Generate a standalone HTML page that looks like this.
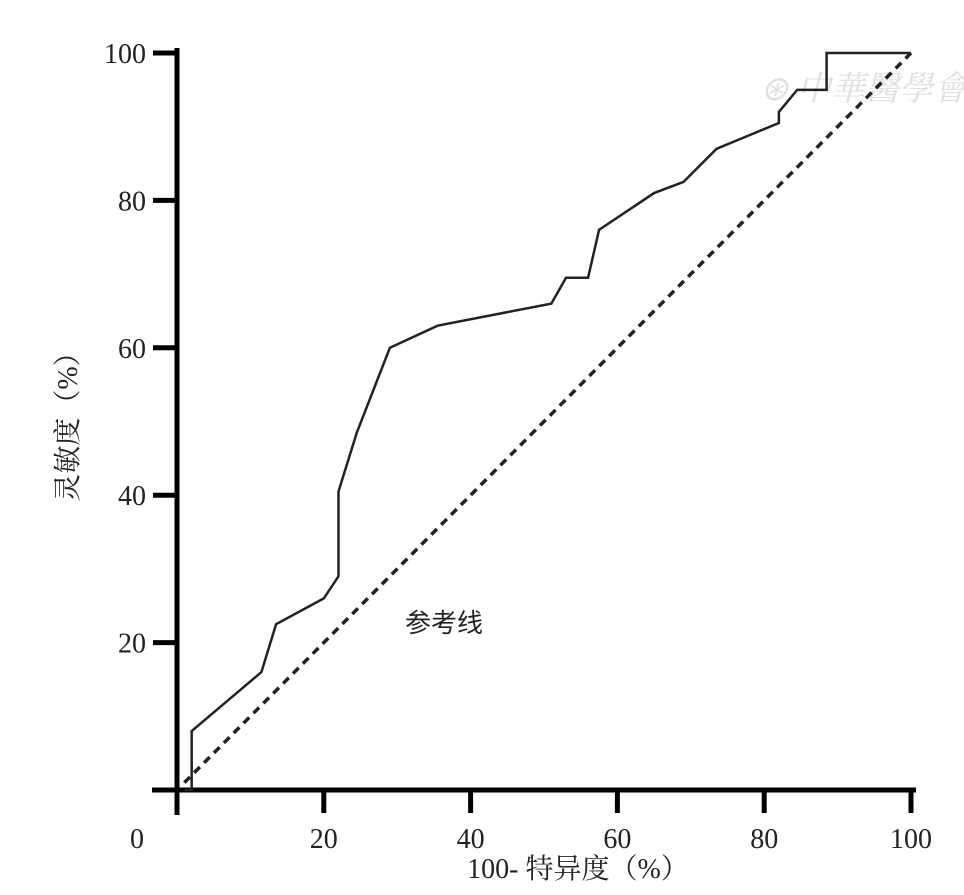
<!DOCTYPE html>
<html><head><meta charset="utf-8"><style>
body{margin:0;background:#fff;}
svg text{font-family:"Liberation Serif","Noto Serif CJK SC",serif;fill:#222;}
</style></head><body>
<svg id="c" width="964" height="890" viewBox="0 0 964 890">
<text x="760" y="100" font-size="34" fill="#e2e2e2" style="fill:#e0e0e0;font-style:italic">⊛ 中華醫學會</text>
<g id="axes"></g>
<g id="marks"></g>
<text x="405" y="632" font-size="26" style="font-family:'Noto Sans CJK SC',sans-serif">参考线</text>
<text x="578" y="878" font-size="28" text-anchor="middle">100- 特异度（%）</text>
<text transform="translate(77,420) rotate(-90)" font-size="28" text-anchor="middle">灵敏度（%）</text>
</svg>
<script>
const xTicks=[0,20,40,60,80,100];
const yTicks=[20,40,60,80,100];
const rocX=[1,2,2,11.5,13.5,20,22,22,24.5,29,35.5,51,53,56,57.5,65,69,73.5,82,82,84.5,88.5,88.5,100];
const rocY=[0,0,8,16,22.5,26,29,40.5,48.5,60,63,66,69.5,69.5,76,81,82.5,87,90.5,92,95,95,100,100];
const refX=[1,100];
const refY=[1,100];
const X=v=>177+v*7.34, Y=v=>790-v*7.37;
const NS="http://www.w3.org/2000/svg";
const ax=document.getElementById('axes'), mk=document.getElementById('marks');
function mkEl(t,a,p){const e=document.createElementNS(NS,t);for(const k in a)e.setAttribute(k,a[k]);p.appendChild(e);return e;}
let l=mkEl('line',{x1:X(0),y1:48,x2:X(0),y2:815,stroke:'#000','stroke-width':5},ax);


l=mkEl('line',{x1:152,y1:790,x2:916,y2:790,stroke:'#000','stroke-width':5},ax);


xTicks.forEach(v=>{
 if(v>0){const t=mkEl('line',{x1:X(v),y1:790,x2:X(v),y2:813,stroke:'#000','stroke-width':5},ax);
 
 }
 const tx=mkEl('text',{x:v===0?137:X(v),y:848,'font-size':28,'text-anchor':'middle'},ax);tx.textContent=v;
 
 
});
yTicks.forEach(v=>{
 const t=mkEl('line',{x1:153,y1:Y(v),x2:X(0),y2:Y(v),stroke:'#000','stroke-width':5},ax);
 
 
 const tx=mkEl('text',{x:146,y:Y(v)+10,'font-size':28,'text-anchor':'end'},ax);tx.textContent=v;
 
 
});
let r=mkEl('polyline',{points:refX.map((x,i)=>X(x)+','+Y(refY[i])).join(' '),fill:'none',stroke:'#222','stroke-width':3.5,'stroke-dasharray':'8,6'},mk);


let p=mkEl('polyline',{points:rocX.map((x,i)=>X(x)+','+Y(rocY[i])).join(' '),fill:'none',stroke:'#222','stroke-width':2.5},mk);


</script>
</body></html>
